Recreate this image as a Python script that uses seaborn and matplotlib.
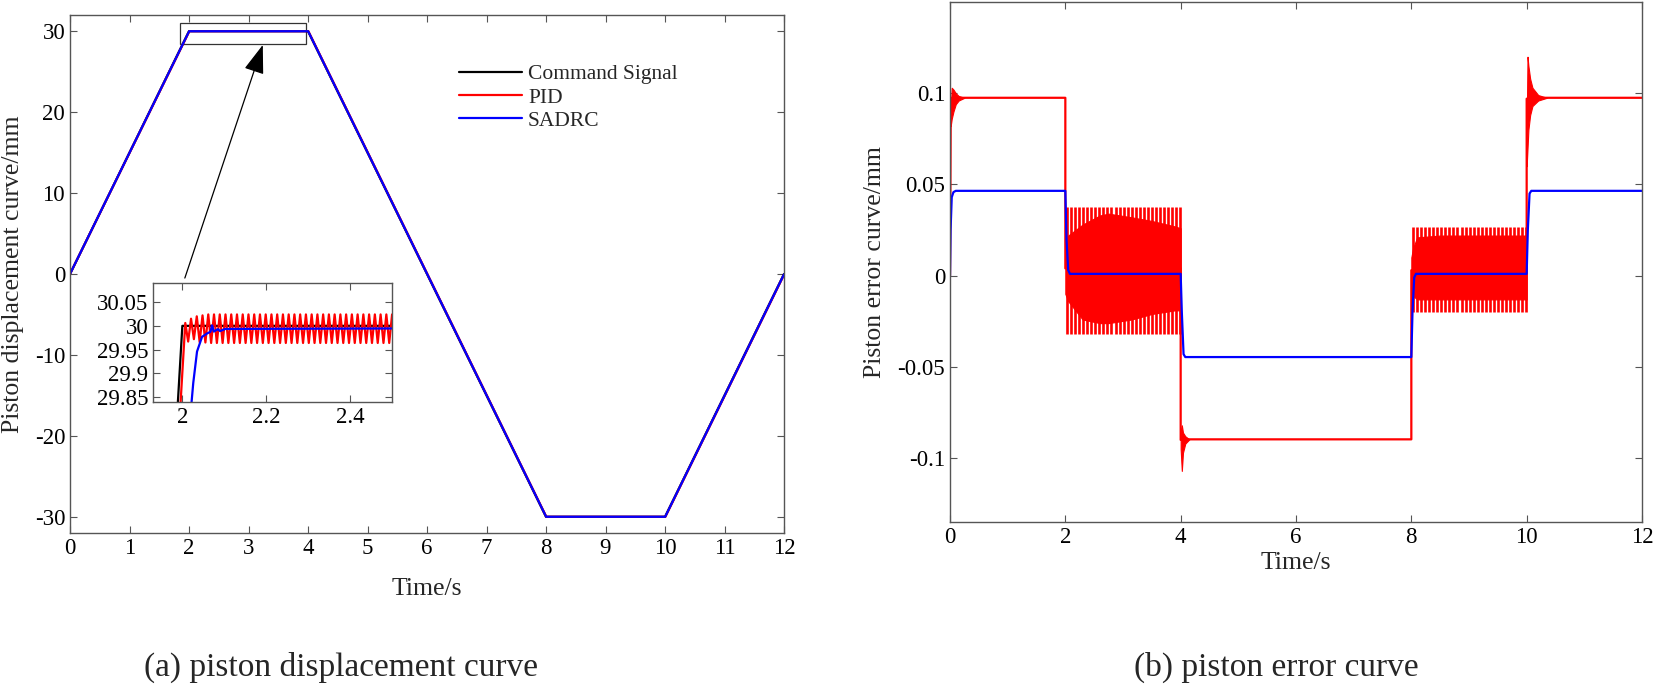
import matplotlib
matplotlib.use("Agg")
import matplotlib.pyplot as plt
import matplotlib.patches as patches
import seaborn as sns
import numpy as np

# ---- displacement (a) ----
t_cmd = [0, 2, 4, 8, 10, 12]
cmd = [0, 30, 30, -30, -30, 0]
t_pid = [0, 2.0065, 4.006, 8.006, 10.006, 12]
pid_disp = [0, 30, 30, -30, -30, -0.1]
t_sadrc = [0, 2.003, 4.003, 8.003, 10.003, 12]
sadrc_disp = [0, 29.995, 29.995, -29.995, -29.995, -0.05]

# inset (zoom around t=2)
pid_zoom_t0 = [1.98, 2.000, 2.007]
pid_zoom_y0 = [29.60, 29.9025, 30.006]
zoom_half_period = 0.00685
pid_zoom_troughs = [29.967, 29.972, 29.966, 29.965] + [29.964] * 32
pid_zoom_peaks = [30.015, 30.020, 30.022, 30.024] + [30.024] * 32
sadrc_zoom_t = [2.010, 2.022, 2.026, 2.035, 2.047, 2.059, 2.067, 2.071, 2.075, 2.085, 2.090, 2.102, 2.50]
sadrc_zoom_y = [29.70, 29.84, 29.88, 29.946, 29.977, 29.984, 29.9875, 30.001, 29.988, 29.993, 29.989, 29.9935, 29.9945]

# ---- error (b) ----
pid_err_t = [0.000, 0.012, 0.030, 0.250, 2.000, 2.000, 4.000, 4.000, 4.030, 4.150, 8.000, 8.000, 10.000, 10.000, 10.300, 12.000]
pid_err_y = [0.000, 0.085, 0.0975, 0.0975, 0.0975, 0.004, 0.004, -0.090, -0.0897, -0.0897, -0.0897, 0.003, 0.003, 0.097, 0.0975, 0.0975]

# dense part of the PID oscillation (upper / lower edge)
osc_t = [
    [0.012, 0.03, 0.06, 0.10, 0.15, 0.25],
    [2.0, 2.05, 2.3, 2.6, 2.75, 3.15, 3.5, 3.9, 4.0],
    [4.0, 4.02, 4.04, 4.08, 4.15],
    [8.0, 8.03, 8.1, 8.5, 9.0, 9.5, 10.0],
    [10.0, 10.015, 10.03, 10.06, 10.10, 10.20, 10.35],
]
osc_hi = [
    [0.090, 0.103, 0.102, 0.100, 0.0985, 0.0975],
    [0.012, 0.022, 0.028, 0.033, 0.034, 0.032, 0.030, 0.027, 0.026],
    [-0.085, -0.082, -0.086, -0.088, -0.0897],
    [0.010, 0.015, 0.021, 0.022, 0.022, 0.022, 0.022],
    [0.080, 0.120, 0.115, 0.108, 0.103, 0.099, 0.0975],
]
osc_lo = [
    [0.082, 0.086, 0.090, 0.094, 0.096, 0.0975],
    [-0.010, -0.014, -0.024, -0.026, -0.026, -0.024, -0.021, -0.019, -0.019],
    [-0.095, -0.107, -0.097, -0.092, -0.0897],
    [-0.008, -0.011, -0.013, -0.013, -0.013, -0.013, -0.013],
    [0.060, 0.070, 0.080, 0.088, 0.093, 0.096, 0.0975],
]
# comb tips beyond the dense part: start, end, spacing, upper tip, lower tip
spike_t0 = [2.03, 8.03]
spike_t1 = [4.0, 10.0]
spike_step = [0.07, 0.07]
spike_hi = [0.0375, 0.0265]
spike_lo = [-0.032, -0.020]

sadrc_err_t = [0, 0.01, 0.03, 0.06, 0.10, 2.0, 2.02, 2.05, 2.08, 4.0, 4.02, 4.05, 4.08,
               8.0, 8.02, 8.05, 8.08, 10.0, 10.02, 10.05, 10.08, 12]
sadrc_err_y = [0, 0.025, 0.043, 0.0458, 0.0465, 0.0465, 0.020, 0.003, 0.001, 0.001, -0.020, -0.043, -0.0446,
               -0.0446, -0.020, -0.001, 0.001, 0.001, 0.025, 0.045, 0.0465, 0.0465]

sns.set_style("ticks")
plt.rcParams['font.family'] = ['Liberation Serif', 'DejaVu Serif']
plt.rcParams.update({
    'axes.unicode_minus': False,
    'xtick.direction': 'in', 'ytick.direction': 'in',
    'xtick.top': True, 'ytick.right': True,
    'axes.edgecolor': '#555555', 'axes.linewidth': 1.0,
    'xtick.color': '#555555', 'ytick.color': '#555555',
    'xtick.labelcolor': 'black', 'ytick.labelcolor': 'black',
    'xtick.major.size': 5, 'ytick.major.size': 5,
    'xtick.labelsize': 16.5, 'ytick.labelsize': 16.5,
})

RED, BLUE, BLACK = '#ff0000', '#0000ff', '#000000'
LW = 1.6

fig = plt.figure(figsize=(16.54, 6.89), dpi=100)
W, H = 1654, 689
ax1 = fig.add_axes([70 / W, 1 - 533 / H, 714 / W, 518 / H])
ax2 = fig.add_axes([950 / W, 1 - 522 / H, 692 / W, 520 / H])
axin = fig.add_axes([153 / W, 1 - 402 / H, 239 / W, 119 / H])

# (a) displacement
sns.lineplot(x=t_cmd, y=cmd, ax=ax1, color=BLACK, lw=LW, label='Command Signal', estimator=None, sort=False)
sns.lineplot(x=t_pid, y=pid_disp, ax=ax1, color=RED, lw=LW, label='PID', estimator=None, sort=False)
sns.lineplot(x=t_sadrc, y=sadrc_disp, ax=ax1, color=BLUE, lw=LW, label='SADRC', estimator=None, sort=False)
ax1.set_xlim(0, 12)
ax1.set_ylim(-32, 32)
ax1.set_xticks(range(0, 13))
ax1.set_yticks([-30, -20, -10, 0, 10, 20, 30])
ax1.set_xlabel('Time/s', fontsize=18.5)
ax1.set_ylabel('Piston displacement curve/mm', fontsize=18.5)
ax1.xaxis.set_label_coords(0.5, -0.087)
ax1.yaxis.set_label_coords(-0.065, 0.5)
ax1.legend(loc='upper left', bbox_to_anchor=(0.545, 0.905), frameon=False, fontsize=15.5,
           handlelength=2.9, handletextpad=0.3, labelspacing=0.15, borderpad=0, borderaxespad=0)
ax1.add_patch(patches.Rectangle((1.85, 28.45), 2.12, 2.6, fill=False, ec='#333333', lw=0.9))
ax1.annotate('', xy=(3.24, 28.3), xytext=(1.93, -0.5),
             arrowprops=dict(arrowstyle='-|>,head_length=1.0,head_width=0.35', color='k', lw=0.9,
                             mutation_scale=18, shrinkA=0, shrinkB=0))

# inset
zt = 2.007 + zoom_half_period * np.arange(1, 2 * len(pid_zoom_peaks) + 1)
zy = np.empty(2 * len(pid_zoom_peaks))
zy[0::2] = pid_zoom_troughs
zy[1::2] = pid_zoom_peaks
sns.lineplot(x=t_cmd, y=cmd, ax=axin, color=BLACK, lw=LW, estimator=None, sort=False)
sns.lineplot(x=np.r_[pid_zoom_t0, zt], y=np.r_[pid_zoom_y0, zy], ax=axin, color=RED, lw=LW,
             estimator=None, sort=False)
sns.lineplot(x=sadrc_zoom_t, y=sadrc_zoom_y, ax=axin, color=BLUE, lw=LW, estimator=None, sort=False)
axin.set_xlim(1.93, 2.5)
axin.set_ylim(29.84, 30.09)
axin.set_xticks([2, 2.2, 2.4])
axin.set_xticklabels(['2', '2.2', '2.4'])
axin.set_yticks([29.85, 29.9, 29.95, 30, 30.05])
axin.set_yticklabels(['29.85', '29.9', '29.95', '30', '30.05'])
axin.set_xlabel('')
axin.set_ylabel('')

# (b) error
sns.lineplot(x=pid_err_t, y=pid_err_y, ax=ax2, color=RED, lw=LW, estimator=None, sort=False)
for t, hi, lo in zip(osc_t, osc_hi, osc_lo):
    ax2.fill_between(t, lo, hi, color=RED, lw=0.8, ec=RED)
for a, b, st, hi, lo in zip(spike_t0, spike_t1, spike_step, spike_hi, spike_lo):
    ts = np.arange(a, b, st)
    ax2.vlines(ts, lo, hi, color=RED, lw=1.9)
sns.lineplot(x=sadrc_err_t, y=sadrc_err_y, ax=ax2, color=BLUE, lw=LW, estimator=None, sort=False)
ax2.set_xlim(0, 12)
ax2.set_ylim(-0.135, 0.15)
ax2.set_xticks(range(0, 13, 2))
ax2.set_yticks([-0.1, -0.05, 0, 0.05, 0.1])
ax2.set_yticklabels(['-0.1', '-0.05', '0', '0.05', '0.1'])
ax2.set_xlabel('Time/s', fontsize=18.5)
ax2.set_ylabel('Piston error curve/mm', fontsize=18.5)
ax2.xaxis.set_label_coords(0.5, -0.058)
ax2.yaxis.set_label_coords(-0.0925, 0.5)

for ax in (ax1, ax2, axin):
    for s in ax.spines.values():
        s.set_visible(True)

fig.text(341 / W, 1 - 667 / H, '(a) piston displacement curve', ha='center', va='center', fontsize=24)
fig.text(1276 / W, 1 - 667 / H, '(b) piston error curve', ha='center', va='center', fontsize=24)

fig.savefig('out.png', dpi=100)
